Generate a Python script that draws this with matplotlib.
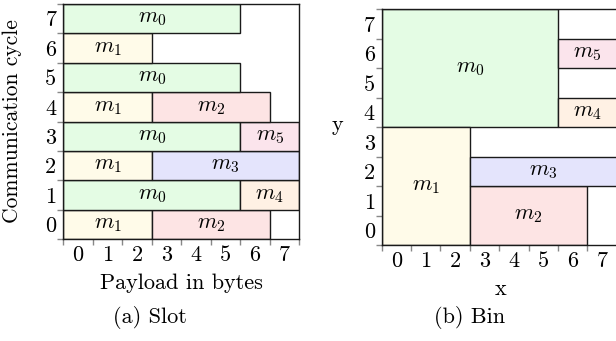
import matplotlib.pyplot as plt
from matplotlib.patches import Rectangle

plt.rcParams['mathtext.fontset'] = 'cm'
plt.rcParams['font.family'] = ['cmr10', 'DejaVu Serif']
plt.rcParams['axes.formatter.use_mathtext'] = True

msg_colors = {0: '#e4fce4', 1: '#fffbe9', 2: '#fde4e4', 3: '#e4e4fc', 4: '#fff1e4', 5: '#fbe4ec'}

# slot layout: (cycle, message, first byte, last byte + 1)
slot_cycle = [0, 0, 1, 1, 2, 2, 3, 3, 4, 4, 5, 6, 7]
slot_msg = [1, 2, 0, 4, 1, 3, 0, 5, 1, 2, 0, 1, 0]
slot_start = [0, 3, 0, 6, 0, 3, 0, 6, 0, 3, 0, 0, 0]
slot_end = [3, 7, 6, 8, 3, 8, 6, 8, 3, 7, 6, 3, 6]

# bin layout: message rectangles (x0, y0, x1, y1)
bin_msg = [0, 1, 2, 3, 4, 5]
bin_x0 = [0, 0, 3, 3, 6, 6]
bin_y0 = [4, 0, 0, 2, 4, 6]
bin_x1 = [6, 3, 7, 8, 8, 8]
bin_y1 = [8, 4, 2, 3, 5, 7]

ticks = list(range(9))
tick_labels = [str(i) for i in range(8)]
FS = 16


def draw_box(ax, m, x0, y0, x1, y1):
    ax.add_patch(Rectangle((x0, y0), x1 - x0, y1 - y0, facecolor=msg_colors[m],
                           edgecolor='#1a1a1a', lw=1.0, zorder=2))
    ax.text((x0 + x1) / 2, (y0 + y1) / 2, r'$m_{%d}$' % m, ha='center', va='center',
            fontsize=FS, zorder=3)


def setup(ax):
    ax.set_xlim(0, 8)
    ax.set_ylim(0, 8)
    ax.set_xticks(ticks)
    ax.set_yticks(ticks)
    ax.set_xticklabels([])
    ax.set_yticklabels([])
    ax.set_xticks([i + 0.5 for i in range(8)], minor=True)
    ax.set_yticks([i + 0.5 for i in range(8)], minor=True)
    ax.set_xticklabels(tick_labels, minor=True, fontsize=FS)
    ax.set_yticklabels(tick_labels, minor=True, fontsize=FS)
    ax.tick_params(which='major', direction='out', length=4, width=1, color='#888888')
    ax.tick_params(which='minor', length=0, pad=5)
    for s in ax.spines.values():
        s.set_color('#1a1a1a')
        s.set_linewidth(1.0)


fig = plt.figure(figsize=(6.16, 3.41), dpi=100)

ax1 = fig.add_axes([0.1028, 0.2991, 0.3831, 0.6891])
setup(ax1)
for c, m, a, b in zip(slot_cycle, slot_msg, slot_start, slot_end):
    draw_box(ax1, m, a, c, b, c + 1)

ax2 = fig.add_axes([0.6197, 0.2815, 0.3815, 0.692])
setup(ax2)
ax2.spines['right'].set_visible(False)
for m, x0, y0, x1, y1 in zip(bin_msg, bin_x0, bin_y0, bin_x1, bin_y1):
    draw_box(ax2, m, x0, y0, x1, y1)

# axis titles and captions
fig.text(0.294, 0.170, 'Payload in bytes', ha='center', va='center', fontsize=FS)
fig.text(0.0195, 0.645, 'Communication cycle', ha='center', va='center',
         rotation=90, fontsize=15.5)
fig.text(0.812, 0.152, 'x', ha='center', va='center', fontsize=FS)
fig.text(0.547, 0.633, 'y', ha='center', va='center', fontsize=FS)
fig.text(0.2435, 0.0675, '(a) Slot', ha='center', va='center', fontsize=FS)
fig.text(0.763, 0.0675, '(b) Bin', ha='center', va='center', fontsize=FS)

fig.savefig('out.png', dpi=100)
